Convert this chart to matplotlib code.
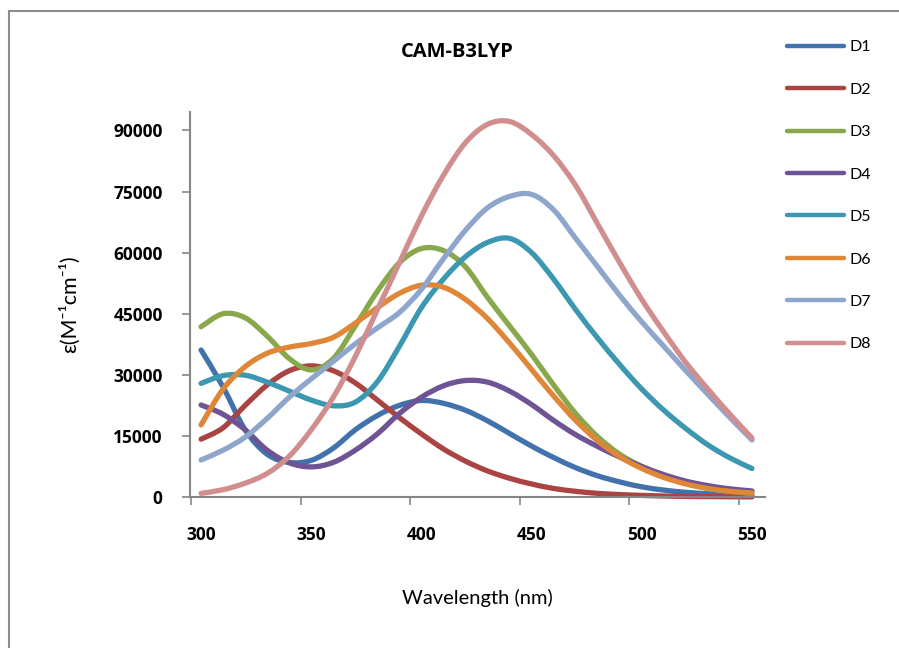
import numpy as np
import matplotlib
matplotlib.use("Agg")
import matplotlib.pyplot as plt
from matplotlib.path import Path
from matplotlib.patches import PathPatch
from matplotlib.lines import Line2D

plt.rcParams['font.family'] = ['Lato', 'DejaVu Sans']
plt.rcParams['mathtext.default'] = 'regular'
BOLD_FONT = ['Open Sans', 'DejaVu Sans']

# Absorption spectra (CAM-B3LYP), sampled every 10 nm
wavelength = np.arange(300, 551, 10)

D1 = [36100, 27000, 16500, 10500, 8500, 9000, 12000, 16500, 20000, 22500,
      23700, 23000, 21300, 18700, 15600, 12500, 9700, 7200, 5200, 3700,
      2500, 1700, 1150, 800, 500, 300]
D2 = [14200, 17000, 22500, 27500, 31000, 32200, 31000, 28000, 23800, 19500,
      15500, 11800, 8800, 6400, 4600, 3200, 2100, 1400, 900, 600,
      400, 250, 150, 100, 60, 40]
D3 = [41800, 45000, 44000, 39500, 34000, 31200, 34000, 42000, 50500, 57500,
      61000, 60500, 56500, 49000, 42000, 35000, 27500, 20500, 14800, 10500,
      7500, 5100, 3400, 2200, 1400, 900]
D4 = [22600, 20300, 16500, 11500, 8400, 7400, 8500, 11500, 15500, 20500,
      24500, 27300, 28600, 28200, 26000, 22700, 18800, 15300, 12400, 9800,
      7500, 5500, 3900, 2800, 2000, 1500]
D5 = [27900, 29800, 29900, 28200, 26000, 23800, 22400, 23300, 28300, 37000,
      46500, 53500, 59000, 62500, 63500, 60000, 53500, 46000, 39000, 32500,
      26500, 21300, 16800, 12800, 9600, 7000]
D6 = [17700, 26500, 32000, 35300, 36800, 37700, 39200, 42700, 46500, 50000,
      52000, 51500, 48500, 43800, 37800, 31300, 24800, 18800, 13800, 9900,
      7000, 4800, 3200, 2100, 1400, 1000]
D7 = [9100, 11500, 14700, 19300, 24500, 29000, 33300, 37600, 41500, 45300,
      51000, 58500, 65500, 71000, 73800, 74300, 70500, 63500, 56500, 49500,
      43000, 37000, 31000, 25200, 19500, 14000]
D8 = [900, 1800, 3400, 5800, 10000, 16500, 24500, 34500, 46000, 57500,
      69000, 79000, 87000, 91500, 92200, 89000, 83800, 76500, 67000, 57500,
      48500, 40500, 33000, 26500, 20300, 14500]

series = [D1, D2, D3, D4, D5, D6, D7, D8]
labels = ['D1', 'D2', 'D3', 'D4', 'D5', 'D6', 'D7', 'D8']
colors = ['#4272AB', '#A94442', '#89A84B', '#6E5494',
          '#3C98B0', '#E08637', '#8EA6CC', '#D08E8E']

y_ticks = [0, 15000, 30000, 45000, 60000, 75000, 90000]
x_labels = [300, 350, 400, 450, 500, 550]


def smooth_path(x, y):
    """Catmull-Rom style cubic Bezier through the points (smoothed line)."""
    pts = np.column_stack([x, y]).astype(float)
    n = len(pts)
    verts = [pts[0]]
    codes = [Path.MOVETO]
    for i in range(n - 1):
        p0 = pts[i - 1] if i > 0 else pts[i]
        p1 = pts[i]
        p2 = pts[i + 1]
        p3 = pts[i + 2] if i + 2 < n else pts[i + 1]
        c1 = p1 + (p2 - p0) / 6.0
        c2 = p2 - (p3 - p1) / 6.0
        verts += [c1, c2, p2]
        codes += [Path.CURVE4] * 3
    return Path(verts, codes)


fig = plt.figure(figsize=(8.99, 6.48), dpi=100)
ax = fig.add_axes([0.2119, 0.2330, 0.6390, 0.5940])

lw = 3.8
for vals, col in zip(series, colors):
    patch = PathPatch(smooth_path(wavelength, vals), facecolor='none',
                      edgecolor=col, lw=lw, capstyle='round',
                      joinstyle='round', transform=ax.transData, clip_on=False)
    ax.add_patch(patch)

ax.set_xlim(295.2, 555.9)
ax.set_ylim(0, 94500)

# y axis
ax.set_yticks(y_ticks)
ax.set_yticklabels([str(v) for v in y_ticks], fontsize=12.5, fontweight='bold',
                   family=BOLD_FONT)
ax.tick_params(axis='y', direction='out', length=6, width=1.2,
               color='#868686', pad=14)

# x axis: tick marks sit between the labelled positions
ax.set_xticks(x_labels)
ax.set_xticklabels([str(v) for v in x_labels], fontsize=12.5, fontweight='bold',
                   family=BOLD_FONT)
ax.tick_params(axis='x', which='major', length=0, pad=21)
ax.set_xticks(295.5 + 49.7 * np.arange(6), minor=True)
ax.tick_params(axis='x', which='minor', direction='out', length=6,
               width=1.2, color='#868686')

for side in ['top', 'right']:
    ax.spines[side].set_visible(False)
for side in ['left', 'bottom']:
    ax.spines[side].set_color('#868686')
    ax.spines[side].set_linewidth(1.5)

ax.set_xlabel('Wavelength (nm)', fontsize=14.5, labelpad=32)
ax.set_ylabel('ε(M⁻¹cm⁻¹)', fontsize=15.5, labelpad=24)

fig.text(0.509, 0.920, 'CAM-B3LYP', ha='center', va='center',
         fontsize=14.5, fontweight='bold', family=BOLD_FONT)

handles = [Line2D([0], [0], color=c, lw=3.2, solid_capstyle='round')
           for c in colors]
fig.legend(handles, labels, loc='upper left', bbox_to_anchor=(0.868, 0.948),
           frameon=False, fontsize=11.5, handlelength=3.6,
           handletextpad=0.35, labelspacing=1.77, borderaxespad=0)

# outer chart border (continues beyond the right and bottom edges)
fig.add_artist(Line2D([8.5 / 899, 8.5 / 899], [0, 1 - 11 / 648],
                      transform=fig.transFigure, color='#8C8C8C', lw=1.5))
fig.add_artist(Line2D([8.5 / 899, 1], [1 - 11 / 648, 1 - 11 / 648],
                      transform=fig.transFigure, color='#8C8C8C', lw=1.5))

fig.savefig('out.png', dpi=100)
